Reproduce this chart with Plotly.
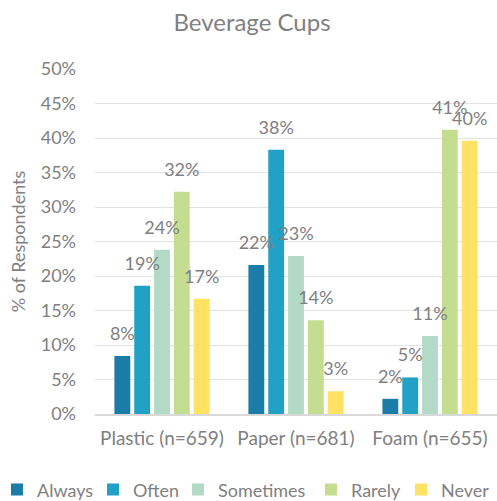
import plotly.graph_objects as go

# Survey results: how often respondents use each type of beverage cup
categories = ["Plastic (n=659)", "Paper (n=681)", "Foam (n=655)"]
series_names = ["Always", "Often", "Sometimes", "Rarely", "Never"]

always = [8.4, 21.6, 2.2]
often = [18.6, 38.3, 5.3]
sometimes = [23.8, 22.9, 11.3]
rarely = [32.2, 13.6, 41.2]
never = [16.7, 3.3, 39.6]

series_values = [always, often, sometimes, rarely, never]
colors = ["#1B7DA7", "#21A1C5", "#B2DAC6", "#C5DD90", "#FFE264"]
legend_widths = [51, 40, 88, 45, 52]
# the last entry gets its own legend box so its text is not clipped
legend_ids = ["legend", "legend", "legend", "legend", "legend2"]

y_ticks = [0, 5, 10, 15, 20, 25, 30, 35, 40, 45, 50]
y_tick_labels = [f"{v}%" for v in y_ticks]

FONT = "Lato, Carlito, 'Open Sans', sans-serif"
GREY = "#808080"
GAP = 0.26

fig = go.Figure()
for name, vals, col, lw, lg in zip(series_names, series_values, colors, legend_widths, legend_ids):
    fig.add_trace(go.Bar(
        name=name,
        x=categories,
        y=vals,
        marker=dict(color=col, line=dict(width=0)),
        legend=lg,
        legendwidth=lw,
        hovertemplate="%{x}<br>" + name + ": %{y:.1f}%<extra></extra>",
    ))

# Value labels floating above each bar, grouped the same way as the bars
for name, vals in zip(series_names, series_values):
    fig.add_trace(go.Scatter(
        x=categories,
        y=vals,
        mode="markers+text",
        marker=dict(size=17, opacity=0),
        text=[f"{v:.0f}%" for v in vals],
        textposition="top center",
        textfont=dict(family=FONT, size=18, color=GREY),
        cliponaxis=False,
        showlegend=False,
        hoverinfo="skip",
    ))

legend_style = dict(
    orientation="h",
    xref="paper", xanchor="left",
    yref="paper", y=-0.166, yanchor="top",
    font=dict(family=FONT, size=18, color=GREY),
    itemwidth=30,
    bgcolor="rgba(0,0,0,0)",
)

fig.update_layout(
    width=497,
    height=501,
    margin=dict(l=95, r=0, t=69, b=87, autoexpand=False),
    paper_bgcolor="white",
    plot_bgcolor="white",
    barmode="group",
    bargap=GAP,
    bargroupgap=0.2,
    scattermode="group",
    scattergap=GAP,
    font=dict(family=FONT, size=18, color=GREY),
    title=dict(
        text="Beverage Cups",
        x=0.507, xref="container", xanchor="center",
        y=0.955, yref="container", yanchor="middle",
        font=dict(family=FONT, size=24, color=GREY),
    ),
    showlegend=True,
    legend=dict(legend_style, x=-0.2438),
    legend2=dict(legend_style, x=0.7612),
)

fig.update_xaxes(
    type="category",
    showgrid=False,
    showline=True,
    linecolor="#d9d9d9",
    linewidth=1.5,
    ticks="",
    tickfont=dict(family=FONT, size=19, color=GREY),
    ticklabelstandoff=6,
)

fig.update_yaxes(
    range=[0, 50],
    tickvals=y_ticks,
    ticktext=y_tick_labels,
    showgrid=True,
    gridcolor="#e2e2e2",
    gridwidth=1,
    zeroline=False,
    showline=False,
    ticks="",
    tickfont=dict(family=FONT, size=18, color=GREY),
    ticklabelstandoff=18,
    title=dict(text="% of Respondents", font=dict(family=FONT, size=18, color=GREY), standoff=10),
)

fig.write_html("out.html")
